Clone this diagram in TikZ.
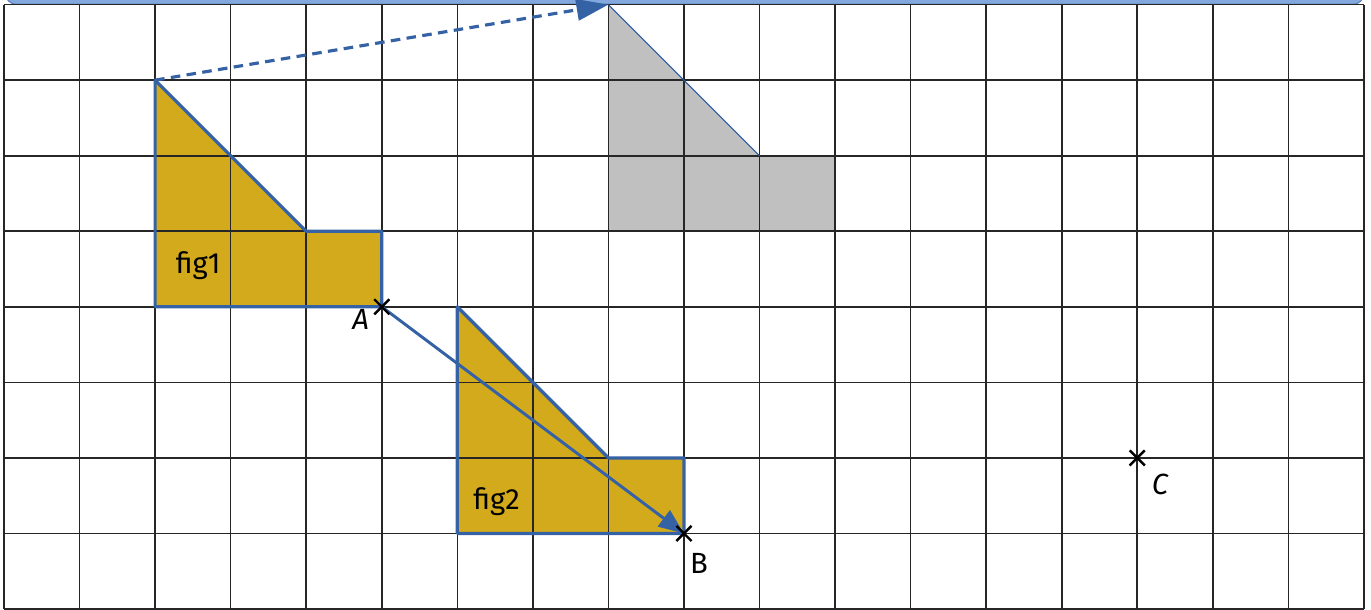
\documentclass[tikz,border=0pt]{standalone}
\usepackage{fontspec}
\setmainfont{Fira Sans}
\usetikzlibrary{arrows.meta,calc}
\definecolor{gold}{RGB}{211,170,27}
\definecolor{edgeblue}{RGB}{52,98,165}
\definecolor{barblue}{RGB}{130,168,222}
\definecolor{greyfill}{RGB}{192,192,192}
\tikzset{
  gridline/.style={black!85, line width=0.6pt},
  figfill/.style={fill=gold},
  figedge/.style={draw=edgeblue, line width=1.2pt, line join=round},
  ghost/.style={fill=greyfill, draw=edgeblue, line width=0.3pt},
  crossmark/.style={black, line width=0.9pt},
  lbl/.style={font=\fontsize{11}{13}\selectfont, inner sep=0pt},
  vecarrow/.style={edgeblue, line width=1.1pt, -{Triangle[length=9.5pt,width=7.5pt]}},
  dasharrow/.style={edgeblue, line width=1.2pt, dash pattern=on 3.6pt off 2.4pt, -{Triangle[length=12pt,width=8pt]}}
}
\begin{document}
\begin{tikzpicture}
\useasboundingbox (-0.053,-0.013) rectangle (18.094,8.061);
\begin{scope}
\clip (-0.053,-0.013) rectangle (18.094,8.061);
\fill[barblue, draw=edgeblue!80, line width=0.4pt, rounded corners=4pt] (0.02,8.005) rectangle (18.0,8.6);
\end{scope}
% named points
\coordinate (A) at (5,4);
\coordinate (B) at (9,1);
\coordinate (C) at (15,2);
\coordinate (P) at (2,7);
\coordinate (Q) at (8,8);
% fills
\path[figfill] (2,7) -- (4,5) -- (5,5) -- (5,4) -- (2,4) -- cycle;
\path[figfill] (6,4) -- (8,2) -- (9,2) -- (9,1) -- (6,1) -- cycle;
\path[ghost] (8,8) -- (10,6) -- (11,6) -- (11,5) -- (8,5) -- cycle;
% grid
\draw[gridline] (0,0) grid (18,8);
% grey figure edge over grid
\draw[edgeblue, line width=0.35pt] (8,8) -- (10,6);
% figure edges
\draw[figedge] (2,7) -- (4,5) -- (5,5) -- (5,4) -- (2,4) -- cycle;
\draw[figedge] (6,4) -- (8,2) -- (9,2) -- (9,1) -- (6,1) -- cycle;
% vectors
\draw[dasharrow] (P) -- (Q);
\draw[vecarrow] (A) -- (B);
% crosses
\foreach \p in {A,B,C}{
  \draw[crossmark] ($(\p)+(-0.1,0.1)$) -- ($(\p)+(0.1,-0.1)$);
  \draw[crossmark] ($(\p)+(-0.1,-0.1)$) -- ($(\p)+(0.1,0.1)$);
}
% labels
\node[lbl] (fa) at (2.57,4.55) {fig1};
\node[lbl] (fb) at (6.52,1.42) {fig2};
\node[lbl] (la) at (4.72,3.83) {\itshape A};
\node[lbl] (lb) at (9.2,0.6) {B};
\node[lbl] (lc) at (15.3,1.65) {\itshape C};
\end{tikzpicture}
\end{document}
